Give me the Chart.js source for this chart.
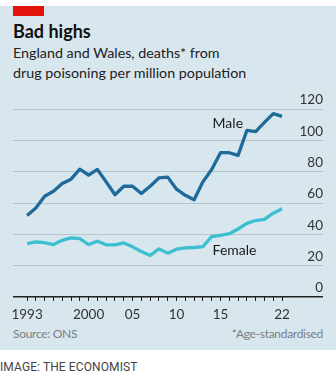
<!DOCTYPE html>
<html>
<head>
<meta charset="utf-8">
<script src="https://cdn.jsdelivr.net/npm/chart.js@4/dist/chart.umd.min.js"></script>
<style>
  body { margin: 0; width: 336px; height: 379px; background: #fff; position: relative; overflow: hidden; font-family: Lato, "Open Sans", sans-serif; }
  #panel { position: absolute; left: 0; top: 6px; width: 336px; height: 344px; background: #d8e6ee; }
  #red { position: absolute; left: 13px; top: 6px; width: 31px; height: 10px; background: #e3120b; }
  #title { position: absolute; left: 13px; top: 20px; font-size: 18px; font-weight: bold; color: #111; }
  #sub { position: absolute; left: 13px; top: 43px; font-size: 14.3px; line-height: 20px; color: #222; }
  #source { position: absolute; left: 13px; top: 326px; font-size: 12px; letter-spacing: -0.3px; color: #7a7f83; }
  #note { position: absolute; right: 13px; top: 326px; font-size: 12px; letter-spacing: -0.3px; color: #7a7f83; }
  #credit { position: absolute; left: 0; top: 360px; font-size: 12px; color: #444; font-family: Roboto, sans-serif; letter-spacing: 0.1px; }
  #wrap { position: absolute; left: 0; top: 0; width: 336px; height: 379px; }
</style>
</head>
<body>
<div id="panel"></div>
<div id="red"></div>
<div id="title">Bad highs</div>
<div id="sub">England and Wales, deaths* from<br>drug poisoning per million population</div>
<div id="source">Source: ONS</div>
<div id="note">*Age-standardised</div>
<div id="credit">IMAGE: THE ECONOMIST</div>
<div id="wrap"><canvas id="chart" width="336" height="379"></canvas></div>
<script>
var years = [1993, 1994, 1995, 1996, 1997, 1998, 1999, 2000, 2001, 2002, 2003, 2004, 2005, 2006, 2007,
    2008, 2009, 2010, 2011, 2012, 2013, 2014, 2015, 2016, 2017, 2018, 2019, 2020, 2021, 2022];
var male = [52, 56.8, 64.3, 67.5, 72.4, 75.2, 81.6, 77.8, 81.4, 73.5, 65.3, 70.7, 70.7, 66, 70.7,
    76, 76.5, 68.8, 64.9, 62.1, 73.5, 81.4, 92.1, 92.1, 90.4, 106.3, 105.6, 111.4, 117, 115.3];
var female = [34.1, 35.2, 34.7, 33.5, 36.2, 37.7, 37.3, 33.5, 35.6, 33.3, 33.3, 34.5, 32, 29.1, 26.5,
    30.7, 28, 30.5, 31.4, 31.6, 32.2, 38.5, 39.4, 40.4, 43.4, 47, 48.8, 49.5, 53.5, 56.3];
var yearLabels = { 1993: "1993", 2000: "2000", 2005: "05", 2010: "10", 2015: "15", 2022: "22" };
var seriesLabels = [
    { text: "Male", x: 2014.1, y: 111 },
    { text: "Female", x: 2014.1, y: 29.4 }
];

var toPoints = (vals) => vals.map((v, i) => ({ x: years[i], y: v }));

var labelPlugin = {
    id: "seriesLabels",
    afterDatasetsDraw(chart) {
        const ctx = chart.ctx;
        ctx.save();
        ctx.font = "14px Lato";
        ctx.fillStyle = "#1a1a1a";
        ctx.textAlign = "left";
        ctx.textBaseline = "middle";
        seriesLabels.forEach(l => {
            ctx.fillText(l.text, chart.scales.x.getPixelForValue(l.x), chart.scales.y.getPixelForValue(l.y));
        });
        ctx.restore();
    }
};

const ctx = document.getElementById('chart').getContext('2d');
var chart = new Chart(ctx, {
    type: 'line',
    data: {
        datasets: [{
            label: "Male",
            data: toPoints(male),
            borderColor: '#1d6a9b',
            borderWidth: 3.3,
            pointRadius: 0,
            borderJoinStyle: 'round'
        }, {
            label: "Female",
            data: toPoints(female),
            borderColor: '#3cbfd0',
            borderWidth: 3.3,
            pointRadius: 0,
            borderJoinStyle: 'round'
        }]
    },
    options: {
        responsive: false,
        animation: false,
        layout: { padding: { left: 13, right: 13, top: 109, bottom: 0 } },
        plugins: { legend: { display: false }, tooltip: { enabled: false } },
        scales: {
            x: {
                type: 'linear',
                min: 1991.4,
                max: 2026.66,
                afterBuildTicks: s => { s.ticks = years.map(y => ({ value: y })); },
                afterFit: s => { s.height = 82; },
                border: { display: false },
                grid: { drawOnChartArea: false, tickLength: 4, tickColor: '#222', lineWidth: 1 },
                ticks: {
                    autoSkip: false, maxRotation: 0, padding: 6,
                    color: '#333', font: { family: 'Lato', size: 13.5 },
                    callback: v => yearLabels[v] || ''
                }
            },
            y: {
                position: 'right',
                min: 0,
                max: 120,
                afterFit: s => { s.width = 0; },
                border: { display: false },
                grid: {
                    drawTicks: false,
                    color: c => c.tick.value === 0 ? '#222' : '#b5c4cd',
                    lineWidth: c => c.tick.value === 0 ? 1.5 : 1
                },
                ticks: {
                    stepSize: 20, mirror: true, padding: 0, labelOffset: -9,
                    color: '#333', font: { family: 'Lato', size: 13.5 }
                }
            }
        }
    },
    plugins: [labelPlugin]
});
</script>
</body>
</html>
